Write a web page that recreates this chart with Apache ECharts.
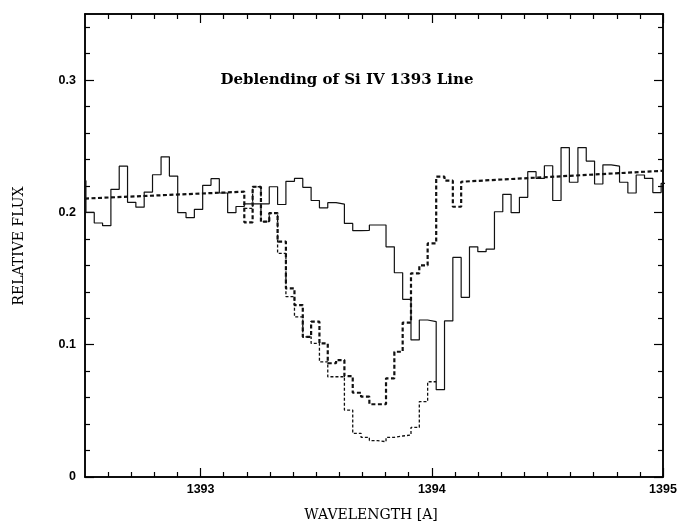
<!DOCTYPE html>
<html><head><meta charset="utf-8">
<script src="https://cdn.jsdelivr.net/npm/echarts@6/dist/echarts.min.js"></script>
<style>html,body{margin:0;padding:0;background:#fff}#c{width:689px;height:524px}</style>
</head><body><div id="c"></div>
<script>
// Bin edges (Angstrom)
const binEdges = [1392.468,1392.504,1392.540,1392.576,1392.612,1392.648,1392.684,1392.720,1392.756,1392.792,
  1392.829,1392.865,1392.901,1392.937,1392.973,1393.009,1393.045,1393.081,1393.117,1393.153,
  1393.189,1393.225,1393.261,1393.297,1393.333,1393.369,1393.406,1393.442,1393.478,1393.514,
  1393.550,1393.586,1393.622,1393.658,1393.694,1393.730,1393.766,1393.802,1393.838,1393.874,
  1393.910,1393.946,1393.982,1394.019,1394.055,1394.091,1394.127,1394.163,1394.199,1394.235,
  1394.271,1394.307,1394.343,1394.379,1394.415,1394.451,1394.487,1394.523,1394.559,1394.595,
  1394.632,1394.668,1394.704,1394.740,1394.776,1394.812,1394.848,1394.884,1394.920,1394.956,
  1394.992,1395.028];
// Observed spectrum (solid histogram), one value per bin
const observedFlux = [0.224,0.200,0.192,0.190,0.2175,0.235,0.2076,0.204,0.2154,0.2285,
  0.242,0.2275,0.1998,0.196,0.2023,0.2205,0.2255,0.2147,0.1998,0.2045,
  0.2065,0.2065,0.2065,0.2194,0.206,0.2235,0.2257,0.219,0.209,0.2035,
  0.2074,0.2063,0.1917,0.1862,0.1865,0.1905,0.1905,0.174,0.1544,0.1343,
  0.1036,0.1187,0.1175,0.066,0.118,0.166,0.1358,0.174,0.1703,0.1723,
  0.2005,0.2137,0.1998,0.2114,0.2308,0.2257,0.2353,0.209,0.249,0.2228,
  0.249,0.2388,0.2215,0.236,0.235,0.2228,0.2147,0.2283,0.2257,0.215,0.222];
// Thick dashed: continuum segments and model profile
const contLeftWave = [1392.5, 1393.189];
const contLeftFlux = [0.2105, 0.2157];
const contRightWave = [1394.127, 1395.0];
const contRightFlux = [0.2232, 0.2315];
const modelEdges = binEdges.slice(20, 47);
const modelFlux = [0.1925,0.2194,0.193,0.1995,0.178,0.1426,0.130,0.106,0.1174,0.101,
  0.086,0.0884,0.0763,0.0637,0.0607,0.055,0.055,0.0746,0.0947,0.1167,
  0.154,0.160,0.1766,0.227,0.224,0.2043];
// Thin dashed: deblended profile
const deblendEdges = binEdges.slice(20, 44);
const deblendFlux = [0.203,0.2194,0.193,0.1995,0.169,0.1363,0.121,0.106,0.101,0.087,
  0.0758,0.0758,0.0506,0.033,0.030,0.0275,0.0267,0.030,0.031,0.0317,
  0.0375,0.057,0.072];
// Axis ticks
const xMajorTicks = [1393, 1394, 1395];
const xMinorTicks = [1392.6,1392.7,1392.8,1392.9,1393.1,1393.2,1393.3,1393.4,1393.5,1393.6,1393.7,1393.8,1393.9,
  1394.1,1394.2,1394.3,1394.4,1394.5,1394.6,1394.7,1394.8,1394.9];
const yMajorTicks = [0, 0.1, 0.2, 0.3];
const yMinorTicks = [0.02,0.04,0.06,0.08,0.12,0.14,0.16,0.18,0.22,0.24,0.26,0.28,0.32,0.34];
const titleText = 'Deblending of Si IV 1393 Line';
const xTitle = 'WAVELENGTH [A]';
const yTitle = 'RELATIVE FLUX';

function steps(edges, vals) {
  const pts = [];
  for (let i = 0; i < vals.length; i++) {
    pts.push([edges[i], vals[i]], [edges[i + 1], vals[i]]);
  }
  return pts;
}
const solidPts = steps(binEdges, observedFlux);
const thickPts = [];
contLeftWave.forEach((w, i) => thickPts.push([w, contLeftFlux[i]]));
steps(modelEdges, modelFlux).forEach(p => thickPts.push(p));
contRightWave.forEach((w, i) => thickPts.push([w, contRightFlux[i]]));
const thinPts = steps(deblendEdges, deblendFlux);

const lab = {fontFamily: 'Liberation Sans', fontWeight: 'bold', fontSize: 12.5, color: '#000',
  formatter: v => String(v)};
const axLine = {show: true, lineStyle: {color: '#000', width: 1.5}};
function xAx(pos, ticks, len, labels) {
  return {type: 'value', position: pos, min: 1392.5, max: 1395, gridIndex: 0,
    axisLine: Object.assign({onZero: false}, axLine),
    axisTick: {show: true, inside: true, length: len, customValues: ticks, lineStyle: {color: '#000', width: 1.2}},
    axisLabel: labels ? Object.assign({show: true, customValues: ticks, margin: 6}, lab) : {show: false},
    splitLine: {show: false}};
}
function yAx(pos, ticks, len, labels) {
  return {type: 'value', position: pos, min: 0, max: 0.35, gridIndex: 0,
    axisLine: Object.assign({onZero: false}, axLine),
    axisTick: {show: true, inside: true, length: len, customValues: ticks, lineStyle: {color: '#000', width: 1.2}},
    axisLabel: labels ? Object.assign({show: true, customValues: ticks, margin: 9}, lab) : {show: false},
    splitLine: {show: false}};
}
const chart = echarts.init(document.getElementById('c'), null, {renderer: 'canvas'});
chart.setOption({
  animation: false,
  backgroundColor: '#fff',
  grid: {left: 85, top: 14, width: 578, height: 463},
  xAxis: [xAx('bottom', xMajorTicks, 9, true), xAx('bottom', xMinorTicks, 5, false),
          xAx('top', xMajorTicks, 9, false), xAx('top', xMinorTicks, 5, false)],
  yAxis: [yAx('left', yMajorTicks, 9, true), yAx('left', yMinorTicks, 5, false),
          yAx('right', yMajorTicks, 9, false), yAx('right', yMinorTicks, 5, false)],
  series: [
    {type: 'line', name: 'observed', data: solidPts, showSymbol: false, symbol: 'none', clip: true,
     lineStyle: {color: '#111', width: 1.2}},
    {type: 'line', name: 'model', data: thickPts, showSymbol: false, symbol: 'none', clip: true,
     lineStyle: {color: '#111', width: 2.2, type: [4, 2.5]}},
    {type: 'line', name: 'deblended', data: thinPts, showSymbol: false, symbol: 'none', clip: true,
     lineStyle: {color: '#111', width: 1.3, type: [3, 2]}}
  ],
  graphic: [
    {type: 'text', x: 347, y: 80, style: {text: titleText,
      font: 'bold 15px "DejaVu Serif"', fill: '#000', align: 'center', verticalAlign: 'middle'}},
    {type: 'text', x: 371, y: 515, style: {text: xTitle,
      font: '14px "DejaVu Serif"', fill: '#000', align: 'center', verticalAlign: 'middle'}},
    {type: 'text', x: 19, y: 246, rotation: Math.PI / 2, style: {text: yTitle,
      font: '14px "DejaVu Serif"', fill: '#000', align: 'center', verticalAlign: 'middle'}}
  ]
});
</script></body></html>
